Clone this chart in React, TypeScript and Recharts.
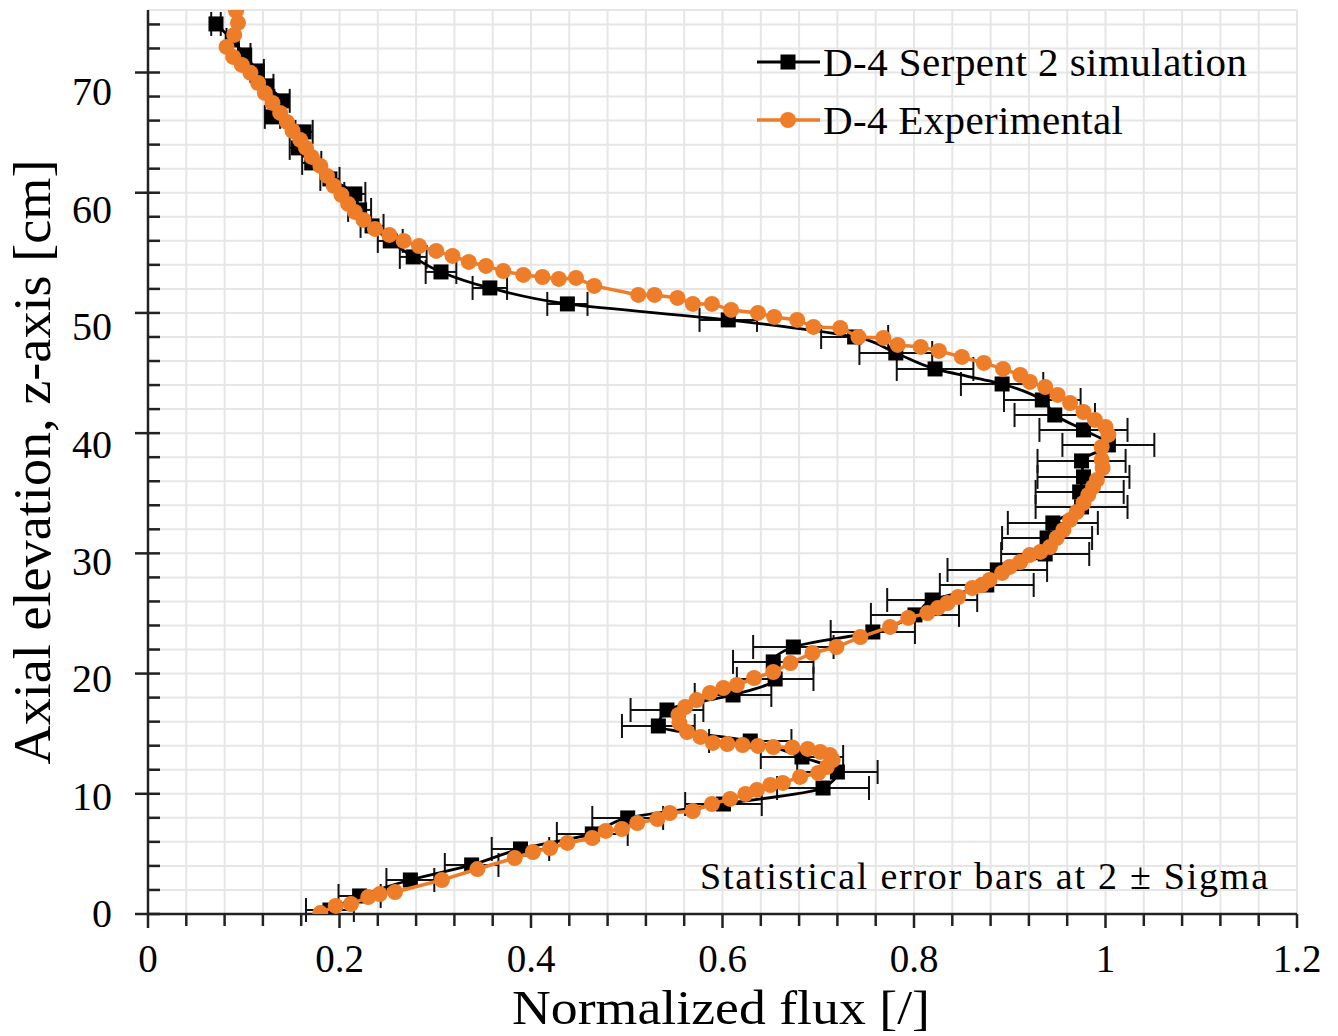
import React from "react";
import {
  ComposedChart,
  Scatter,
  ErrorBar,
  XAxis,
  YAxis,
  CartesianGrid,
} from "recharts";

// D-4 Serpent 2 simulation: normalized flux, elevation [cm], 2-sigma error
const simFlux = [
  0.071, 0.088, 0.101, 0.114, 0.124, 0.14, 0.13, 0.163, 0.157, 0.171,
  0.19, 0.216, 0.221, 0.234, 0.253, 0.277, 0.306, 0.357, 0.438, 0.606,
  0.738, 0.781, 0.822, 0.892, 0.934, 0.947, 0.977, 1.003, 0.975, 0.977,
  0.973, 0.975, 0.945, 0.939, 0.937, 0.887, 0.876, 0.819, 0.801, 0.757,
  0.674, 0.653, 0.655, 0.611, 0.542, 0.533, 0.629, 0.683, 0.72, 0.705,
  0.601, 0.501, 0.464, 0.389, 0.338, 0.274, 0.221, 0.19,
];
const simZ = [
  74.04, 72.71, 71.46, 70.13, 68.89, 67.64, 66.31, 65.06, 63.73, 62.48,
  61.15, 59.9, 58.57, 57.24, 55.99, 54.66, 53.41, 52.08, 50.75, 49.42,
  48.0, 46.67, 45.34, 44.09, 42.76, 41.51, 40.27, 39.02, 37.69, 36.36,
  35.11, 33.86, 32.53, 31.28, 29.95, 28.62, 27.37, 26.12, 24.88, 23.46,
  22.21, 20.97, 19.55, 18.22, 16.97, 15.64, 14.39, 13.06, 11.81, 10.48,
  9.15, 7.99, 6.66, 5.41, 4.08, 2.83, 1.5, 0.33,
];
const simErr = [
  0.005, 0.006, 0.006, 0.007, 0.007, 0.008, 0.008, 0.009, 0.009, 0.01,
  0.01, 0.011, 0.012, 0.012, 0.013, 0.014, 0.016, 0.018, 0.021, 0.03,
  0.035, 0.038, 0.04, 0.043, 0.04, 0.042, 0.046, 0.048, 0.046, 0.048,
  0.046, 0.048, 0.047, 0.047, 0.046, 0.052, 0.049, 0.047, 0.046, 0.044,
  0.042, 0.042, 0.04, 0.04, 0.038, 0.038, 0.043, 0.043, 0.042, 0.048,
  0.04, 0.037, 0.037, 0.03, 0.028, 0.025, 0.022, 0.025,
];

// D-4 Experimental
const expFlux = [
  0.092, 0.094, 0.09, 0.082, 0.089, 0.098, 0.107, 0.115, 0.122, 0.13,
  0.138, 0.145, 0.151, 0.159, 0.165, 0.171, 0.18, 0.187, 0.194, 0.202,
  0.209, 0.216, 0.225, 0.237, 0.252, 0.267, 0.283, 0.301, 0.318, 0.335,
  0.353, 0.371, 0.392, 0.412, 0.429, 0.447, 0.466, 0.512, 0.529, 0.553,
  0.569, 0.589, 0.609, 0.637, 0.654, 0.678, 0.695, 0.723, 0.742, 0.768,
  0.783, 0.807, 0.826, 0.85, 0.873, 0.893, 0.911, 0.921, 0.937, 0.95,
  0.963, 0.977, 0.989, 1.0, 1.003, 0.996, 0.996, 0.997, 0.991, 0.987,
  0.982, 0.977, 0.97, 0.963, 0.956, 0.949, 0.942, 0.932, 0.921, 0.911,
  0.9, 0.892, 0.879, 0.871, 0.861, 0.846, 0.835, 0.825, 0.814, 0.794,
  0.775, 0.744, 0.719, 0.694, 0.671, 0.653, 0.633, 0.615, 0.601, 0.587,
  0.573, 0.561, 0.554, 0.555, 0.563, 0.577, 0.59, 0.605, 0.621, 0.637,
  0.653, 0.673, 0.689, 0.702, 0.712, 0.715, 0.709, 0.7, 0.681, 0.663,
  0.65, 0.636, 0.624, 0.608, 0.589, 0.569, 0.545, 0.532, 0.511, 0.495,
  0.478, 0.464, 0.438, 0.42, 0.402, 0.383, 0.344, 0.307, 0.258, 0.242,
  0.23, 0.212, 0.196, 0.18,
];
const expZ = [
  75.12, 74.13, 73.13, 72.13, 71.3, 70.63, 69.97, 69.13, 68.3, 67.47,
  66.64, 65.89, 65.14, 64.39, 63.73, 62.98, 62.23, 61.4, 60.57, 59.82,
  59.07, 58.4, 57.74, 56.99, 56.49, 55.99, 55.57, 55.16, 54.74, 54.24,
  53.91, 53.49, 53.16, 52.99, 52.83, 52.91, 52.25, 51.5, 51.5, 51.25,
  50.75, 50.75, 50.25, 50.0, 49.67, 49.42, 48.84, 48.75, 48.0, 47.92,
  47.34, 47.17, 46.84, 46.34, 45.84, 45.34, 44.84, 44.26, 43.84, 43.18,
  42.51, 41.76, 41.1, 40.52, 39.85, 38.85, 37.77, 37.1, 36.11, 35.52,
  34.86, 34.19, 33.44, 32.78, 31.95, 31.28, 30.53, 30.12, 29.87, 29.28,
  28.87, 28.37, 27.79, 27.37, 27.12, 26.37, 25.87, 25.46, 25.04, 24.63,
  23.88, 23.04, 22.21, 21.71, 20.88, 20.13, 19.63, 19.05, 18.8, 18.39,
  17.8, 17.22, 16.56, 15.89, 15.14, 14.73, 14.23, 14.14, 14.06, 13.98,
  13.89, 13.86, 13.73, 13.48, 13.23, 12.81, 12.23, 11.73, 11.4, 10.9,
  10.73, 10.32, 9.98, 9.57, 9.15, 8.57, 8.4, 7.9, 7.57, 7.07,
  6.91, 6.32, 5.91, 5.49, 5.16, 4.66, 3.74, 2.83, 1.83, 1.66,
  1.41, 0.83, 0.67, 0.08,
];

const xTicks = [
  0, 0.04, 0.08, 0.12, 0.16, 0.2, 0.24, 0.28, 0.32, 0.36, 0.4, 0.44, 0.48,
  0.52, 0.56, 0.6, 0.64, 0.68, 0.72, 0.76, 0.8, 0.84, 0.88, 0.92, 0.96, 1,
  1.04, 1.08, 1.12, 1.16, 1.2,
];
const xLabels = [0, 0.2, 0.4, 0.6, 0.8, 1, 1.2];
const yTicks = [
  0, 2, 4, 6, 8, 10, 12, 14, 16, 18, 20, 22, 24, 26, 28, 30, 32, 34, 36, 38,
  40, 42, 44, 46, 48, 50, 52, 54, 56, 58, 60, 62, 64, 66, 68, 70, 72, 74,
];
const yRightTicks = [
  0, 2, 4, 6, 8, 10, 12, 14, 16, 18, 20, 22, 24, 26, 28, 30, 32, 34, 36, 38,
  40, 42, 44, 46, 48, 50, 52, 54, 56, 58, 60, 62, 64, 66, 68, 70, 72, 74, 76,
];

const simData = simFlux.map((x, i) => ({ x, y: simZ[i], err: simErr[i] }));
const expData = expFlux.map((x, i) => ({ x, y: expZ[i] }));

const FONT = "'Liberation Serif', 'Times New Roman', serif";
const AXIS = "#222";
const ORANGE = "#ee7d2a";

function BottomTick(props: any) {
  const { x, y, payload } = props;
  const v = payload.value;
  const major = xLabels.includes(v);
  return (
    <g>
      <line x1={x} x2={x} y1={y} y2={y + (major ? 14 : 12)} stroke={AXIS} strokeWidth={2.5} />
      {major && (
        <text x={x} y={y + 58} textAnchor="middle" fontSize={39} fontFamily={FONT} fill="#000">
          {String(v)}
        </text>
      )}
    </g>
  );
}

function LeftTick(props: any) {
  const { x, y, payload } = props;
  const v = payload.value;
  const major = v % 10 === 0;
  return (
    <g>
      <line x1={major ? x - 13 : x} x2={x + 12} y1={y} y2={y} stroke={AXIS} strokeWidth={2.5} />
      {major && (
        <text
          x={x - 36}
          y={y + v * 0.285 + 13}
          textAnchor="end"
          fontSize={40}
          fontFamily={FONT}
          fill="#000"
        >
          {v}
        </text>
      )}
    </g>
  );
}

function RightTick(props: any) {
  const { x, y, payload } = props;
  const major = payload.value % 10 === 0;
  return <line x1={x} x2={x + (major ? 15 : 11)} y1={y} y2={y} stroke={AXIS} strokeWidth={2.5} />;
}

const SquareDot = (props: any) => (
  <rect x={props.cx - 7.5} y={props.cy - 7.5} width={15} height={15} fill="#000" />
);
const CircleDot = (props: any) => <circle cx={props.cx} cy={props.cy} r={8} fill={ORANGE} />;

export default function App() {
  return (
    <div style={{ position: "absolute", left: 0, top: 0, width: 1338, height: 1036, background: "#fff" }}>
      <ComposedChart
        width={1338}
        height={1036}
        margin={{ top: 10, right: 41, bottom: 0, left: 0 }}
      >
        <CartesianGrid stroke="#e6e6e6" strokeWidth={2} />
        <XAxis
          type="number"
          dataKey="x"
          domain={[0, 1.2]}
          ticks={xTicks}
          interval={0}
          allowDataOverflow
          height={122}
          tickSize={0}
          tickMargin={0}
          tick={BottomTick}
          axisLine={{ stroke: AXIS, strokeWidth: 2.5 }}
        />
        <XAxis
          xAxisId="top"
          orientation="top"
          type="number"
          domain={[0, 1.2]}
          height={0}
          tick={false}
          tickLine={false}
          axisLine={{ stroke: AXIS, strokeWidth: 2.5 }}
        />
        <YAxis
          type="number"
          dataKey="y"
          domain={[0, 75.2]}
          ticks={yTicks}
          interval={0}
          allowDataOverflow
          width={148}
          tickSize={0}
          tickMargin={0}
          tick={LeftTick}
          axisLine={{ stroke: AXIS, strokeWidth: 2.5 }}
        />
        <YAxis
          yAxisId="r"
          orientation="right"
          type="number"
          domain={[0, 77]}
          ticks={yRightTicks}
          interval={0}
          allowDataOverflow
          width={0}
          tickSize={0}
          tickMargin={0}
          tick={RightTick}
          axisLine={{ stroke: AXIS, strokeWidth: 2.5 }}
        />
        <Scatter
          name="D-4 Serpent 2 simulation"
          data={simData}
          line={{ stroke: "#000", strokeWidth: 2.8 }}
          lineType="joint"
          lineJointType="monotoneY"
          shape={SquareDot}
          isAnimationActive={false}
        >
          <ErrorBar dataKey="err" direction="x" width={12} stroke="#111" strokeWidth={2} />
        </Scatter>
        <Scatter
          name="D-4 Experimental"
          data={expData}
          line={{ stroke: ORANGE, strokeWidth: 3.5 }}
          lineType="joint"
          shape={CircleDot}
          isAnimationActive={false}
        />
      </ComposedChart>

      <svg
        width={1338}
        height={1036}
        style={{ position: "absolute", left: 0, top: 0, pointerEvents: "none" }}
        fontFamily={FONT}
      >
        {/* legend */}
        <line x1={757} x2={820} y1={62} y2={62} stroke="#000" strokeWidth={2.8} />
        <rect x={780.5} y={54.5} width={15} height={15} fill="#000" />
        <text x={823} y={76} fontSize={41} fill="#000" textLength={424} lengthAdjust="spacing">
          D-4 Serpent 2 simulation
        </text>
        <line x1={757} x2={820} y1={120} y2={120} stroke={ORANGE} strokeWidth={3.5} />
        <circle cx={788} cy={120} r={8} fill={ORANGE} />
        <text x={823} y={134} fontSize={41} fill="#000" textLength={300} lengthAdjust="spacing">
          D-4 Experimental
        </text>

        <text x={700} y={889} fontSize={38} fill="#000" textLength={568} lengthAdjust="spacing">
          Statistical error bars at 2 ± Sigma
        </text>

        {/* axis titles */}
        <text
          x={721}
          y={1024}
          textAnchor="middle"
          fontSize={49}
          fill="#000"
          textLength={418}
          lengthAdjust="spacingAndGlyphs"
        >
          Normalized flux [/]
        </text>
        <text
          transform="translate(50, 462) rotate(-90)"
          textAnchor="middle"
          fontSize={53}
          fill="#000"
          textLength={605}
          lengthAdjust="spacingAndGlyphs"
        >
          Axial elevation, z-axis [cm]
        </text>
      </svg>
    </div>
  );
}
